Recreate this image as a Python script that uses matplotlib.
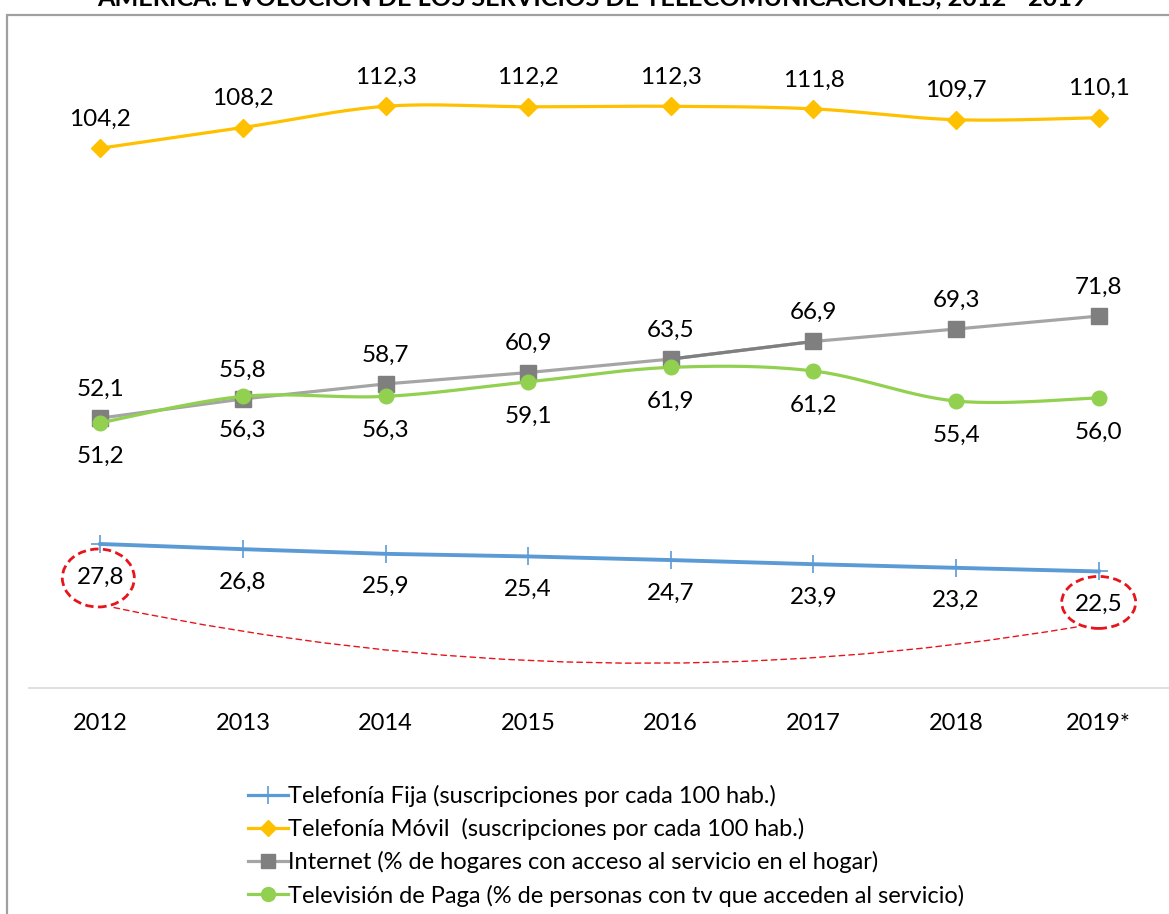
import numpy as np
import matplotlib
matplotlib.use("Agg")
import matplotlib.pyplot as plt
from matplotlib.patches import Rectangle, Ellipse, FancyArrowPatch
from matplotlib.transforms import IdentityTransform

plt.rcParams['font.family'] = ['Lato', 'DejaVu Sans']

# Data
years = ["2012", "2013", "2014", "2015", "2016", "2017", "2018", "2019*"]
fija = [27.8, 26.8, 25.9, 25.4, 24.7, 23.9, 23.2, 22.5]
movil = [104.2, 108.2, 112.3, 112.2, 112.3, 111.8, 109.7, 110.1]
internet = [52.1, 55.8, 58.7, 60.9, 63.5, 66.9, 69.3, 71.8]
tv = [51.2, 56.3, 56.3, 59.1, 61.9, 61.2, 55.4, 56.0]

labels = [
    "Telefonía Fija (suscripciones por cada 100 hab.)",
    "Telefonía Móvil  (suscripciones por cada 100 hab.)",
    "Internet (% de hogares con acceso al servicio en el hogar)",
    "Televisión de Paga (% de personas con tv que acceden al servicio)",
]
title = "AMÉRICA: EVOLUCIÓN DE LOS SERVICIOS DE TELECOMUNICACIONES, 2012 - 2019"

C_FIJA = "#5B9BD5"
C_MOVIL = "#FFC000"
C_INT_LINE = "#A5A5A5"
C_INT_MARK = "#7F7F7F"
C_TV = "#92D050"
C_RED = "#E8141B"

W, H = 1169, 914
fig = plt.figure(figsize=(W / 100, H / 100), dpi=100)

# Outer chart border
fig.patches.append(Rectangle((7 / W, -0.05), 1.2, 1 - 15 / H + 0.05,
                             transform=fig.transFigure, fill=False,
                             edgecolor="#A0A0A0", linewidth=1.6, zorder=0))

fig.text(592 / W, 1 - 6 / H, title, ha="center", va="baseline",
         fontsize=18.2, fontweight="bold", color="black")

ax = fig.add_axes([29 / W, 1 - 688 / H, 1141 / W, 673.4 / H])
ax.set_xlim(-0.5, 7.5)
ax.set_ylim(0, 130)
for s in ["top", "right", "left"]:
    ax.spines[s].set_visible(False)
ax.spines["bottom"].set_color("#D9D9D9")
ax.spines["bottom"].set_linewidth(1.2)
ax.set_yticks([])
x = np.arange(len(years))
ax.set_xticks(x)
ax.set_xticklabels(years, fontsize=17)
ax.tick_params(axis="x", length=0, pad=18)
ax.patch.set_visible(False)


def smooth(xs, ys, n=30):
    """Bezier smoothing through the points (Catmull-Rom style)."""
    xs = np.asarray(xs, float)
    ys = np.asarray(ys, float)
    px, py = [], []
    m = len(xs)
    for i in range(m - 1):
        x0, y0 = (xs[i - 1], ys[i - 1]) if i > 0 else (xs[i], ys[i])
        x1, y1 = xs[i], ys[i]
        x2, y2 = xs[i + 1], ys[i + 1]
        x3, y3 = (xs[i + 2], ys[i + 2]) if i + 2 < m else (x2, y2)
        c1x, c1y = x1 + (x2 - x0) / 6, y1 + (y2 - y0) / 6
        c2x, c2y = x2 - (x3 - x1) / 6, y2 - (y3 - y1) / 6
        t = np.linspace(0, 1, n)
        bx = (1 - t) ** 3 * x1 + 3 * (1 - t) ** 2 * t * c1x + 3 * (1 - t) * t ** 2 * c2x + t ** 3 * x2
        by = (1 - t) ** 3 * y1 + 3 * (1 - t) ** 2 * t * c1y + 3 * (1 - t) * t ** 2 * c2y + t ** 3 * y2
        px.extend(bx[:-1] if i < m - 2 else bx)
        py.extend(by[:-1] if i < m - 2 else by)
    return np.array(px), np.array(py)


# Telefonía fija
ax.plot(x, fija, color=C_FIJA, lw=2.8, zorder=3)
ax.plot(x, fija, ls="none", marker="+", ms=13, mew=1.2, color=C_FIJA, zorder=4)
h_fija, = ax.plot([], [], color=C_FIJA, lw=2.3, marker="+", ms=13, mew=1.2)

# Telefonía móvil (smoothed)
sx, sy = smooth(x, movil)
ax.plot(sx, sy, color=C_MOVIL, lw=2.3, zorder=3)
ax.plot(x, movil, ls="none", marker="D", ms=9.5, color=C_MOVIL, zorder=4)
h_movil, = ax.plot([], [], color=C_MOVIL, lw=2.3, marker="D", ms=8.5)

# Internet (one darker segment)
ax.plot(x, internet, color=C_INT_LINE, lw=2.3, zorder=3)
ax.plot(x[4:6], internet[4:6], color=C_INT_MARK, lw=2.3, zorder=3)
ax.plot(x, internet, ls="none", marker="s", ms=11.5, color=C_INT_MARK, zorder=4)
h_int, = ax.plot([], [], color=C_INT_LINE, lw=2.3, marker="s", ms=10,
                 mfc=C_INT_MARK, mec=C_INT_MARK)

# Televisión de paga (smoothed)
sx, sy = smooth(x, tv)
ax.plot(sx, sy, color=C_TV, lw=2.3, zorder=5)
ax.plot(x, tv, ls="none", marker="o", ms=10.5, color=C_TV, zorder=6)
h_tv, = ax.plot([], [], color=C_TV, lw=2.3, marker="o", ms=10)


# Data labels
def put_labels(vals, dy):
    arts = []
    for xi, v in zip(x, vals):
        t = ax.annotate(f"{v:.1f}".replace(".", ","), (xi, v),
                        xytext=(0, dy), textcoords="offset pixels",
                        ha="center", va="center", fontsize=17.5, zorder=7)
        arts.append(t)
    return arts


put_labels(movil, 29)
put_labels(internet, 29)
put_labels(tv, -34)
put_labels(fija, -33)

# Highlight first and last fixed-line values (display pixel units)
p0 = ax.transData.transform((x[0], fija[0]))
p7 = ax.transData.transform((x[-1], fija[-1]))
c0 = (p0[0] - 2, p0[1] - 34)
c7 = (p7[0], p7[1] - 31)
for c, w, h in ((c0, 72, 58), (c7, 74, 52)):
    ax.add_patch(Ellipse(c, w, h, transform=IdentityTransform(), fill=False,
                         edgecolor=C_RED, lw=2.0, ls=(0, (3, 1.6)),
                         clip_on=False, zorder=8))

ax.add_patch(FancyArrowPatch((c0[0] + 13, c0[1] - 29), (c7[0] - 19, c7[1] - 24),
                             transform=IdentityTransform(), arrowstyle="-",
                             connectionstyle="arc3,rad=0.095", color=C_RED,
                             lw=1.0, ls=(0, (4, 3)), clip_on=False, zorder=8))

fig.legend([h_fija, h_movil, h_int, h_tv], labels,
           loc="upper left", bbox_to_anchor=(248 / W, 1 - 785 / H),
           frameon=False, fontsize=17, handlelength=1.7, handletextpad=0.0,
           labelspacing=0.47, borderaxespad=0, borderpad=0)

fig.savefig("out.png", dpi=100)
